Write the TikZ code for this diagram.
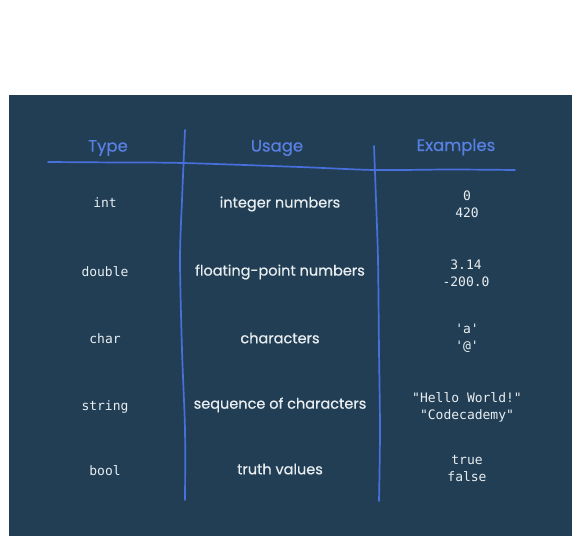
\documentclass[tikz,border=0pt]{standalone}
\usepackage{fontspec}
\setmainfont{Poppins}
\newfontfamily\codefont{DejaVu Sans Mono}
\newfontfamily\handfont{Poppins}[FakeBold=0.5]
\definecolor{bgblue}{RGB}{34,62,85}
\definecolor{lineblue}{RGB}{72,112,220}
\definecolor{headblue}{RGB}{88,128,226}
\definecolor{txt}{RGB}{232,238,240}
\begin{document}
\begin{tikzpicture}[x=1pt,y=-1pt,
  head/.style={text=headblue,font=\handfont\fontsize{16.5}{19}\selectfont,inner sep=0pt},
  code/.style={text=txt,font=\codefont\fontsize{13}{17}\selectfont,align=center,inner sep=0pt},
  usage/.style={text=txt,font=\handfont\fontsize{14.5}{17}\selectfont,inner sep=0pt},
  rule/.style={draw=lineblue,line width=1.7pt,line cap=round}]
\useasboundingbox (0,0) rectangle (572,536);
\fill[white] (0,0) rectangle (572,536);
\fill[bgblue] (9,95) rectangle (572,536);
% lines
\draw[rule] plot[smooth] coordinates {(48,162) (120,162.5) (183,163) (300,167) (375,170) (450,169.5) (515,170)};
\draw[rule] plot[smooth] coordinates {(185,130) (182,200) (180,260) (182,350) (185,430) (185,500)};
\draw[rule] plot[smooth] coordinates {(374,146) (376,200) (378,260) (379,350) (380,430) (379,501)};
% headers
\node[head] (hType) at (108,148) {Type};
\node[head] (hUsage) at (277,148) {Usage};
\node[head] (hEx) at (456,147) {Examples};
% rows
\node[code] (t1) at (105,203) {int};
\node[usage] (u1) at (280,204) {integer numbers};
\node[code] (e1) at (467,204.5) {0\\420};
\node[code] (t2) at (105,272) {double};
\node[usage] (u2) at (280,272) {floating-point numbers};
\node[code] (e2) at (466,273.5) {3.14\\-200.0};
\node[code] (t3) at (105,339) {char};
\node[usage] (u3) at (280,338) {characters};
\node[code] (e3) at (467,338) {'a'\\'@'};
\node[code] (t4) at (105,407) {string};
\node[usage] (u4) at (280,405) {sequence of characters};
\node[code] (e4) at (467,407.5) {"Hello World!"\\"Codecademy"};
\node[code] (t5) at (105,471) {bool};
\node[usage] (u5) at (280,469) {truth values};
\node[code] (e5) at (467,468.5) {true\\false};
\end{tikzpicture}
\end{document}
